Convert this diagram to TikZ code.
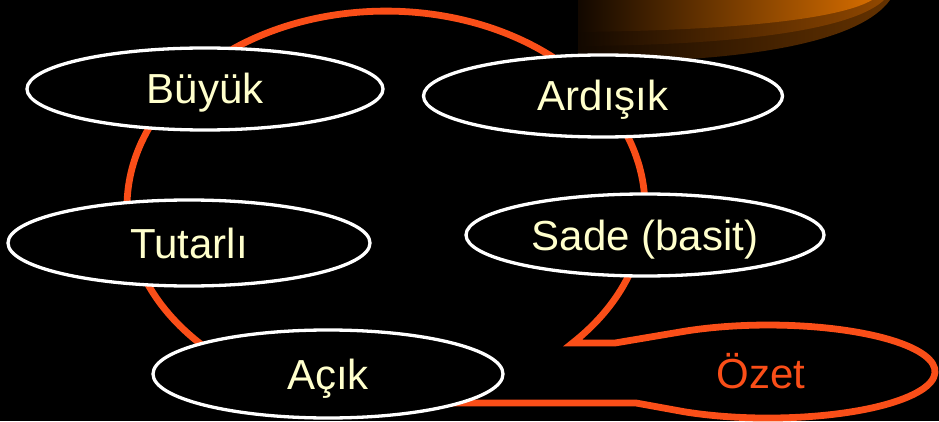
\documentclass[tikz,border=0pt]{standalone}
\usepackage{fontspec}
\setmainfont{Liberation Sans}
\usetikzlibrary{shapes.geometric}
\definecolor{callred}{RGB}{250,78,24}
\definecolor{txtyel}{RGB}{255,255,204}
\definecolor{shdark}{RGB}{18,8,0}
\begin{document}
\begin{tikzpicture}[x=1pt,y=1pt,
  bubble/.style={ellipse, draw=white, line width=3.3pt, fill=black, inner sep=0pt,
    minimum width=356pt, minimum height=82pt, text=txtyel,
    font=\fontsize{42}{50}\selectfont, text height=30pt, text depth=0pt},
  callout/.style={draw=callred, line width=6.8pt, fill=black},
  ozettext/.style={text=callred, inner sep=0pt, font=\fontsize{42}{50}\selectfont,
    text height=30pt, text depth=0pt}]
\fill[black] (0,0) rectangle (939,421);
\useasboundingbox (0,0) rectangle (939,421);
% shaded 3D shape at top right
\begin{scope}
\clip (0,0) rectangle (939,421);
\shade[left color=shdark, right color={rgb,255:red,100;green,50;blue,0}]
  (578,440) -- (578,359) .. controls (760,358) and (862,382) .. (890,421) -- (890,440) -- cycle;
\shade[left color=shdark, right color={rgb,255:red,145;green,72;blue,0}]
  (578,440) -- (578,375) .. controls (760,376) and (857,395) .. (884,421) -- (884,440) -- cycle;
\shade[left color=shdark, right color={rgb,255:red,212;green,108;blue,0}]
  (578,440) -- (578,389) .. controls (760,391) and (845,405) .. (872,421) -- (872,440) -- cycle;
\end{scope}
% callout circle with the summary ellipse
\draw[callout] (572.6,78) arc[start angle=-43.9, end angle=270, x radius=259, y radius=196]
  -- (636,18) -- (684.5,9.2)
  arc[start angle=240, end angle=480, x radius=167, y radius=46.5]
  -- (615,78) -- cycle;
\node[bubble] (buyuk) at (205,332) {Büyük};
\node[bubble, minimum width=359pt] (ardisik) at (603,325) {Ardışık};
\node[bubble, minimum width=362pt, minimum height=86pt] (tutarli) at (189,178) {Tutarlı};
\node[bubble, minimum width=358pt] (sade) at (645,186) {Sade (basit)};
\node[bubble, minimum width=350pt, minimum height=88pt] (acik) at (328,47) {Açık};
\node[ozettext] (ozet) at (761,48) {Özet};
\end{tikzpicture}
\end{document}
